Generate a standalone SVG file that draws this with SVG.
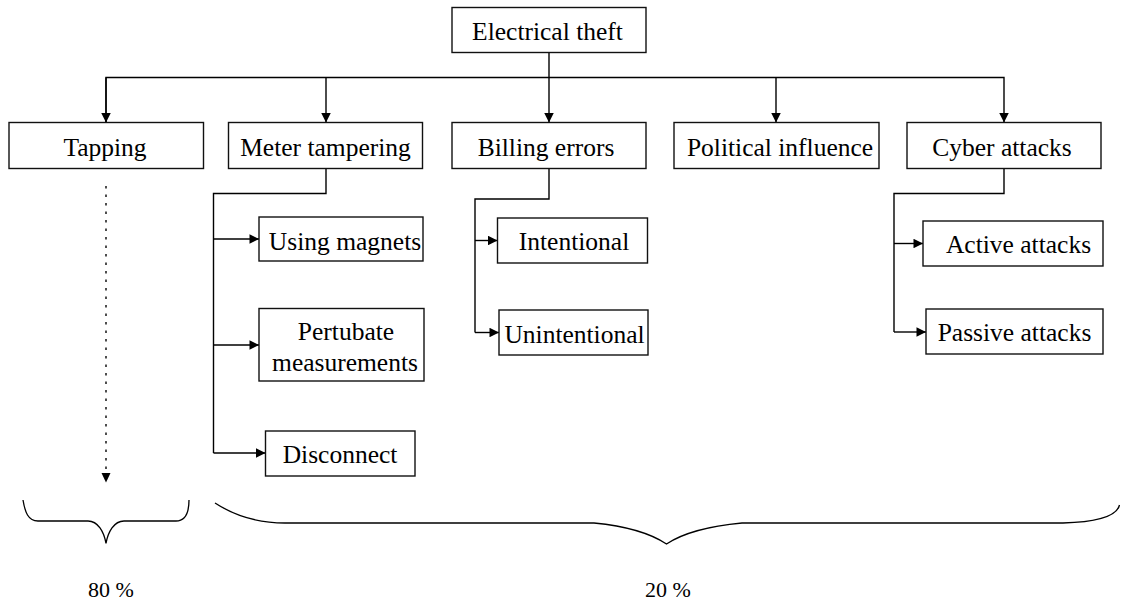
<svg xmlns="http://www.w3.org/2000/svg" width="1121" height="604" viewBox="0 0 1121 604">
  <style>
    .box { fill: #fff; stroke: #111; stroke-width: 1.4; }
    .lbl { font-family: "Liberation Serif", "Times New Roman", serif; font-size: 25.5px; fill: #000; text-anchor: middle; }
    .pct { font-family: "Liberation Serif", "Times New Roman", serif; font-size: 22px; fill: #000; text-anchor: middle; }
    .wire { fill: none; stroke: #000; stroke-width: 1.4; }
    .dots { fill: none; stroke: #222; stroke-width: 1.6; stroke-dasharray: 2.5 6; }
    .brace { fill: none; stroke: #000; stroke-width: 1.3; }
  </style>
  <defs>
    <marker id="arrow" viewBox="0 0 10 10" refX="10" refY="5" markerWidth="10" markerHeight="9.5" markerUnits="userSpaceOnUse" orient="auto">
      <path d="M0,0 L10,5 L0,10 z" fill="#000"/>
    </marker>
  </defs>
  <rect width="1121" height="604" fill="#fff"/>

  <!-- connectors -->
  <g id="connectors">
    <!-- root to first level -->
    <path class="wire" d="M549,52.5 V122.5" marker-end="url(#arrow)"/>
    <path class="wire" d="M106,122.5 V77.5 H1004 V122.5" marker-end="url(#arrow)"/>
    <path class="wire" d="M106,77.5 V122.5" marker-end="url(#arrow)"/>
    <path class="wire" d="M326,77.5 V122.5" marker-end="url(#arrow)"/>
    <path class="wire" d="M776,77.5 V122.5" marker-end="url(#arrow)"/>
    <!-- meter tampering branches -->
    <path class="wire" d="M326,168.5 V193.5 H213.5 V453"/>
    <path class="wire" d="M213.5,239 H259" marker-end="url(#arrow)"/>
    <path class="wire" d="M213.5,345 H259" marker-end="url(#arrow)"/>
    <path class="wire" d="M213.5,453 H265.5" marker-end="url(#arrow)"/>
    <!-- billing errors branches -->
    <path class="wire" d="M549,168.5 V199 H475 V332.5"/>
    <path class="wire" d="M475,240.5 H497.5" marker-end="url(#arrow)"/>
    <path class="wire" d="M475,332.5 H499" marker-end="url(#arrow)"/>
    <!-- cyber attacks branches -->
    <path class="wire" d="M1004,168.5 V193.5 H894 V332"/>
    <path class="wire" d="M894,243.5 H923" marker-end="url(#arrow)"/>
    <path class="wire" d="M894,332 H926" marker-end="url(#arrow)"/>
    <!-- tapping dotted lead -->
    <path class="dots" d="M106,186 V480"/>
    <path d="M101.5,473 L110.5,473 L106,482.5 z" fill="#000"/>
  </g>

  <g id="n-root">
    <rect class="box" x="452" y="7.5" width="194" height="45"/>
    <text class="lbl" x="547.5" y="39.5">Electrical theft</text>
  </g>
  <g id="n-tapping">
    <rect class="box" x="9" y="122.5" width="194.5" height="46"/>
    <text class="lbl" x="105" y="155.5">Tapping</text>
  </g>
  <g id="n-meter">
    <rect class="box" x="228.5" y="122.5" width="194" height="46"/>
    <text class="lbl" x="325.5" y="155.5">Meter tampering</text>
  </g>
  <g id="n-billing">
    <rect class="box" x="452" y="122.5" width="194" height="46"/>
    <text class="lbl" x="546" y="155.5">Billing errors</text>
  </g>
  <g id="n-political">
    <rect class="box" x="674" y="122.5" width="205" height="46"/>
    <text class="lbl" x="780" y="155.5">Political influence</text>
  </g>
  <g id="n-cyber">
    <rect class="box" x="907" y="122.5" width="194" height="46"/>
    <text class="lbl" x="1002" y="155.5">Cyber attacks</text>
  </g>

  <g id="n-magnets">
    <rect class="box" x="259" y="217" width="164" height="44"/>
    <text class="lbl" x="345" y="249.5">Using magnets</text>
  </g>
  <g id="n-pertubate">
    <rect class="box" x="259" y="308.5" width="165" height="72.5"/>
    <text class="lbl" x="346" y="340">Pertubate</text>
    <text class="lbl" x="345" y="371">measurements</text>
  </g>
  <g id="n-disconnect">
    <rect class="box" x="265.5" y="431" width="149.5" height="45"/>
    <text class="lbl" x="340" y="462.5">Disconnect</text>
  </g>

  <g id="n-intentional">
    <rect class="box" x="497.5" y="218" width="150" height="45"/>
    <text class="lbl" x="574" y="250">Intentional</text>
  </g>
  <g id="n-unintentional">
    <rect class="box" x="499" y="310" width="149" height="45"/>
    <text class="lbl" x="574.5" y="342.5">Unintentional</text>
  </g>

  <g id="n-active">
    <rect class="box" x="923" y="221" width="180" height="45"/>
    <text class="lbl" x="1018.5" y="252.5">Active attacks</text>
  </g>
  <g id="n-passive">
    <rect class="box" x="926" y="309" width="177" height="45"/>
    <text class="lbl" x="1014.5" y="341">Passive attacks</text>
  </g>

  <!-- share braces -->
  <g id="brace-80">
    <path class="brace" d="M23,500 C25,512 28,521 38,521 L88,521 C98,521 104,532 106,543.5 C108,532 114,521 124,521 L176,521 C186,521 189,512 189,500"/>
    <text class="pct" x="111" y="597">80 %</text>
  </g>
  <g id="brace-20">
    <path class="brace" d="M215,503 C235,516 258,523 285,523 L594,523 C625,526 650,533 666.5,544 C683,533 710,526 742,523 L1063,523 C1097,522 1117,516 1119.5,505"/>
    <text class="pct" x="668" y="597">20 %</text>
  </g>
</svg>
